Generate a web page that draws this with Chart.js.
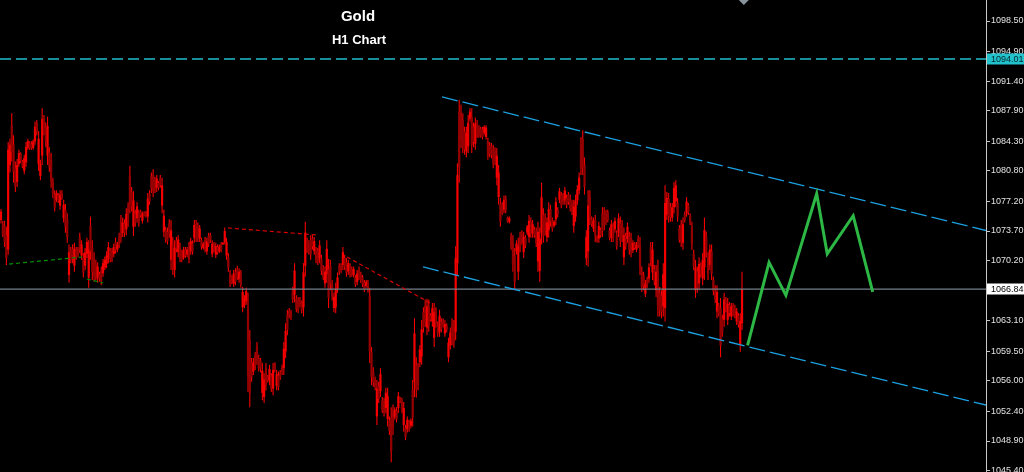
<!DOCTYPE html>
<html><head><meta charset="utf-8">
<script src="https://cdn.jsdelivr.net/npm/chart.js@4.4.0/dist/chart.umd.min.js"></script>
<style>html,body{margin:0;padding:0;background:#000;overflow:hidden}#wrap{width:1024px;height:472px;position:relative;background:#000}canvas{display:block}</style>
</head><body><div id="wrap"><canvas id="c" width="1024" height="472"></canvas></div>
<script>
const TITLE = 'Gold';
const SUBTITLE = 'H1 Chart';

const HIGHS = [
1076.3,1074.9,1074.9,1074.2,1084.2,1084.6,1087.6,1085.0,1081.9,1082.2,
1083.3,1083.0,1082.1,1082.7,1084.2,1084.6,1084.3,1084.3,1084.5,1086.6,
1086.8,1085.5,1082.1,1088.2,1087.4,1086.5,1087.2,1083.6,1082.9,1080.0,
1078.5,1078.5,1078.2,1078.5,1078.5,1077.4,1076.9,1075.8,1072.1,1071.8,
1072.1,1072.3,1071.8,1071.8,1073.5,1072.6,1071.1,1071.7,1072.9,1072.6,
1075.4,1072.6,1071.2,1070.3,1070.0,1068.9,1069.5,1070.4,1070.7,1071.3,
1072.4,1071.7,1071.7,1072.2,1072.9,1072.4,1073.5,1075.6,1075.3,1075.1,
1076.4,1077.1,1081.4,1078.9,1078.4,1076.2,1077.1,1076.2,1076.2,1076.0,
1076.0,
1076.1,1078.2,1078.5,1080.6,1081.0,1080.1,1080.3,1079.6,1080.3,1080.0,
1076.2,1074.2,1074.1,1075.1,1075.0,1073.0,1072.6,1073.0,1073.2,1072.3,
1071.5,1071.8,1071.8,1071.8,1072.4,1072.9,1072.6,1075.0,1075.0,1074.7,
1074.4,1072.9,1072.4,1073.0,1072.9,1073.5,1073.5,1072.6,1072.4,1072.3,
1072.1,1072.1,1072.4,1072.4,1074.1,1072.9,1071.1,1069.1,1068.5,1069.1,
1069.3,1069.6,1069.3,1069.1,1067.1,1066.1,1067.0,1066.4,1062.0,1058.7,
1058.7,1059.4,1060.6,1059.1,1058.7,1058.1,1056.9,1058.1,1056.7,1057.9,
1056.9,1058.1,1058.2,1057.3,1057.1,1057.3,1057.9,1060.6,1062.8,1064.4,
1064.6,1064.4,1067.1,1069.9,
1066.1,1065.9,1065.9,1065.5,1069.9,1074.8,1072.9,1072.6,1073.2,1073.2,
1073.0,1071.8,1071.7,1072.6,1070.9,1069.7,1069.5,1072.6,1070.4,1070.3,
1067.9,1066.4,1067.6,1068.8,1069.9,1069.9,1071.8,1070.9,1070.5,1070.3,
1069.9,1069.5,1069.5,1068.5,1069.1,1069.5,1068.9,1068.5,1067.9,1067.9,
1067.9,1067.0,1060.0,1057.6,1056.5,1056.1,1055.9,1057.5,1054.1,1054.0,
1055.2,1055.2,1051.8,1052.9,1053.2,1052.9,1052.9,1054.7,1054.1,1054.0,
1053.5,1050.8,1051.8,1051.4,1051.6,1056.1,1063.4,1058.8,1058.1,1060.2,
1063.2,1064.7,1065.6,1065.7,1065.6,1064.0,1065.2,1065.2,1064.7,1063.0,
1064.4,1063.4,1063.4,1063.2,1062.8,1061.1,1062.3,
1063.4,1063.2,1071.9,1081.7,1089.2,1088.6,1087.6,1086.0,1086.0,1087.4,
1088.2,1088.2,1086.5,1087.1,1086.8,1086.2,1086.0,1086.0,1086.2,1086.2,
1084.7,1084.2,1084.1,1083.9,1083.6,1083.5,1081.5,1077.6,1077.1,1077.9,
1077.9,1075.4,1075.4,1073.5,1073.2,1071.7,1072.6,1072.9,1073.6,1073.8,
1073.6,1073.2,1074.4,1075.6,1075.3,1075.0,1074.2,1074.1,1074.8,1074.1,
1079.4,1076.4,1075.8,1075.3,1077.1,1076.8,1075.3,1075.0,1077.7,1076.5,
1078.8,1078.3,1078.2,1078.9,1078.0,1078.3,1078.0,1077.4,1077.4,1078.0,
1079.1,1080.6,1084.8,1085.6,1082.4,1073.8,1078.5,1078.5,1075.4,1075.3,
1075.6,1073.2,1074.8,1074.1,
1076.5,1076.5,1076.2,1076.2,1074.1,1075.0,1074.7,1075.3,1073.8,1075.8,
1075.4,1075.0,1074.1,1073.5,1074.7,1073.6,1073.5,1072.6,1072.4,1072.4,
1073.2,1073.0,1069.5,1068.9,1067.9,1068.3,1069.9,1072.4,1072.4,1069.7,
1069.7,1070.3,1067.1,1066.7,1069.9,1079.1,1078.3,1078.2,1077.0,1077.0,
1079.5,1079.7,1077.6,1074.4,1075.0,1075.3,1076.0,1077.7,1077.0,1075.8,
1074.8,1071.5,1070.3,1069.5,1070.6,1070.0,1071.1,1075.3,1073.6,1071.2,
1072.1,1072.1,1068.3,1067.3,1067.3,1065.2,1065.8,1063.8,1066.4,1065.9,
1065.8,1065.3,1065.2,1065.2,1065.0,1064.6,1064.0,1064.0,1068.9
];

const LOWS = [
1074.6,1073.0,1071.8,1069.7,1070.9,1080.6,1081.9,1079.4,1078.3,1078.9,
1081.3,1081.7,1081.1,1080.4,1081.3,1083.3,1083.3,1083.3,1083.3,1083.9,
1085.0,1080.8,1079.7,1081.5,1085.0,1083.6,1081.5,1080.7,1078.8,1077.6,
1076.0,1077.1,1077.0,1076.2,1077.4,1074.7,1073.5,1072.3,1067.6,1069.9,
1069.9,1068.9,1070.3,1070.6,1071.1,1070.3,1068.2,1069.1,1070.5,1067.0,
1070.3,1067.9,1067.7,1067.9,1067.6,1067.7,1067.3,1068.3,1069.1,1069.3,
1069.9,1070.0,1070.0,1070.6,1071.0,1071.2,1071.7,1072.3,1073.0,1073.0,
1073.2,1074.2,1075.8,1076.0,1073.1,1074.2,1074.7,1074.2,1075.3,1074.6,
1075.4,
1075.3,1074.7,1076.8,1078.2,1077.7,1078.2,1078.3,1078.5,1078.8,1075.8,
1073.0,1072.3,1072.1,1072.9,1069.1,1068.5,1068.2,1071.2,1070.6,1070.0,
1070.0,1070.3,1070.5,1070.6,1069.9,1070.9,1070.9,1072.3,1072.4,1072.4,
1072.4,1071.5,1071.5,1071.2,1070.9,1071.8,1072.3,1070.6,1071.2,1070.5,
1070.9,1071.1,1071.2,1072.1,1072.1,1070.3,1068.9,1067.1,1067.4,1067.1,
1067.3,1067.9,1067.6,1067.0,1064.1,1064.6,1065.0,1054.7,1052.9,1055.9,
1056.7,1057.3,1057.9,1057.1,1057.0,1053.7,1053.4,1054.9,1055.8,1055.5,
1054.7,1054.3,1057.0,1054.9,1054.9,1056.1,1056.7,1056.7,1058.7,1061.4,
1063.4,1063.2,1065.2,1065.3,
1064.1,1064.0,1064.7,1064.0,1063.6,1068.3,1071.1,1070.9,1070.3,1071.5,
1070.9,1069.9,1069.7,1069.9,1068.5,1067.9,1067.0,1067.6,1064.6,1066.7,
1065.5,1064.1,1064.0,1066.4,1068.5,1068.7,1069.1,1069.1,1068.3,1068.5,
1068.2,1068.3,1068.2,1067.1,1067.3,1067.9,1067.6,1067.1,1066.5,1067.0,
1066.4,1058.1,1055.5,1055.3,1054.9,1050.8,1053.4,1054.1,1052.2,1051.8,
1052.2,1050.6,1049.6,1046.4,1049.6,1051.4,1051.1,1052.2,1053.4,1052.2,
1050.0,1049.0,1049.9,1050.0,1050.4,1050.6,1054.1,1054.0,1054.9,1057.6,
1057.9,1061.7,1062.4,1061.4,1061.8,1063.0,1062.4,1060.0,1062.3,1061.2,
1061.2,1061.7,1062.3,1061.2,1061.7,1058.2,1059.7,
1060.2,1059.9,1060.8,1068.5,1079.4,1083.5,1082.9,1082.7,1082.4,1082.9,
1086.6,1082.9,1083.6,1083.3,1084.7,1084.7,1084.7,1084.5,1085.0,1084.5,
1082.1,1082.4,1082.3,1081.1,1081.5,1079.1,1076.8,1074.2,1075.6,1075.8,
1075.8,1074.7,1074.6,1071.5,1068.9,1066.7,1070.9,1067.9,1071.2,1072.1,
1070.5,1071.7,1073.2,1072.3,1072.9,1072.9,1072.9,1071.8,1068.9,1067.7,
1072.1,1072.3,1073.2,1072.4,1072.9,1074.2,1073.6,1074.1,1074.4,1075.3,
1077.0,1076.4,1076.8,1076.8,1076.4,1076.8,1076.0,1075.6,1073.5,1074.8,
1076.8,1078.0,1080.3,1080.3,1078.0,1069.7,1069.5,1074.4,1074.2,1073.6,
1072.4,1072.3,1072.3,1072.9,
1073.0,1073.8,1074.4,1074.7,1072.6,1072.4,1072.4,1073.5,1071.5,1073.0,
1071.8,1072.4,1069.7,1071.5,1072.3,1070.9,1070.6,1071.1,1071.5,1071.2,
1071.7,1068.5,1066.5,1066.7,1065.9,1067.0,1067.6,1069.5,1067.9,1067.3,
1065.9,1063.6,1063.6,1063.4,1063.6,1063.0,1075.0,1074.7,1074.8,1074.8,
1075.8,1076.5,1074.8,1072.3,1071.8,1071.5,1074.7,1075.4,1075.6,1074.4,
1071.5,1069.1,1065.8,1066.4,1066.7,1068.2,1067.3,1067.9,1070.6,1067.9,
1069.1,1067.9,1066.1,1065.2,1063.4,1063.6,1058.8,1061.2,1062.4,1064.1,
1062.6,1063.6,1063.2,1063.6,1063.4,1062.6,1062.3,1059.4,1062.0
];

const OPENS = [
1075.0,1074.5,1074.3,1073.2,1071.5,1081.5,1086.2,1083.9,1081.1,1079.5,
1081.6,1082.8,1081.9,1080.8,1081.8,1083.5,1084.1,1084.0,1083.5,1084.3,
1086.5,1081.6,1080.2,1082.6,1087.0,1086.0,1082.6,1083.0,1082.1,1079.5,
1078.0,1077.4,1077.9,1076.7,1078.2,1075.2,1076.2,1075.1,1068.5,1071.4,
1071.6,1069.6,1071.5,1071.6,1073.0,1070.8,1070.5,1069.6,1071.0,1068.2,
1074.3,1071.7,1070.5,1069.8,1068.1,1068.6,1069.0,1068.7,1069.4,1069.8,
1070.5,1071.3,1071.4,1071.0,1072.4,1071.5,1073.0,1074.8,1073.5,1074.6,
1073.9,1076.5,1080.2,1078.3,1074.2,1075.7,1075.2,1075.8,1076.0,1074.9,
1075.9,
1075.9,1075.4,1078.1,1080.1,1080.3,1079.7,1078.8,1079.4,1080.0,1076.7,
1073.6,1073.8,1073.6,1074.6,1070.3,1072.1,1069.1,1072.6,1071.2,1071.8,
1071.2,1070.6,1071.5,1070.9,1071.9,1071.3,1072.2,1072.9,1074.5,1074.2,
1072.8,1072.6,1071.7,1072.6,1071.3,1073.1,1073.2,1071.0,1072.1,1070.9,
1071.8,1071.3,1072.1,1072.1,1072.4,1070.8,1070.6,1068.7,1068.3,1067.5,
1068.9,1069.2,1068.0,1068.6,1064.7,1064.9,1065.4,1064.5,1060.8,1058.2,
1057.1,1059.0,1060.1,1058.7,1058.4,1054.6,1054.1,1057.5,1056.5,1056.0,
1056.5,1055.1,1058.0,1055.4,1056.6,1057.0,1057.6,1057.5,1059.5,1063.8,
1064.3,1064.1,1066.7,1066.2,
1065.7,1065.5,1065.6,1065.2,1064.7,1069.6,1072.5,1072.2,1072.6,1072.8,
1071.3,1071.4,1071.3,1070.5,1070.4,1069.3,1067.5,1068.6,1069.2,1069.6,
1067.4,1064.6,1064.7,1066.9,1069.6,1069.6,1069.7,1070.5,1070.0,1068.9,
1069.5,1069.2,1068.5,1068.2,1067.7,1069.1,1068.6,1068.2,1067.6,1067.2,
1067.6,1066.0,1059.4,1057.1,1056.1,1051.8,1055.4,1054.8,1053.7,1053.5,
1052.8,1051.5,1051.3,1051.6,1052.4,1051.7,1052.5,1052.8,1053.9,1053.6,
1050.8,1050.4,1050.3,1051.1,1050.7,1055.0,1055.9,1057.8,1057.5,1058.2,
1058.9,1064.1,1064.9,1062.3,1064.8,1063.8,1063.0,1061.1,1064.2,1062.6,
1061.8,1063.0,1063.1,1061.6,1062.5,1058.8,1060.2,
1062.7,1062.5,1061.8,1069.9,1087.8,1087.8,1086.8,1085.4,1083.1,1083.7,
1086.9,1087.2,1086.0,1084.0,1086.4,1085.9,1085.7,1085.7,1085.3,1084.8,
1084.2,1083.8,1083.7,1083.3,1083.2,1080.0,1077.7,1076.9,1076.8,1076.2,
1077.5,1075.3,1074.8,1073.1,1072.3,1070.7,1071.3,1068.9,1073.1,1073.4,
1071.2,1072.9,1073.5,1073.0,1074.8,1073.4,1073.9,1073.6,1070.1,1069.0,
1073.5,1075.6,1075.3,1073.0,1073.8,1076.3,1074.9,1074.3,1075.1,1076.2,
1077.4,1077.9,1077.9,1077.3,1077.6,1078.0,1077.5,1077.0,1074.3,1075.4,
1077.3,1078.5,1083.9,1084.6,1081.5,1070.5,1071.3,1077.7,1075.1,1074.0,
1075.0,1073.0,1072.8,1073.8,
1075.8,1076.0,1075.8,1075.9,1073.8,1072.9,1074.2,1073.9,1073.3,1073.5,
1074.6,1074.5,1070.6,1073.1,1072.8,1073.1,1072.9,1071.4,1072.2,1071.5,
1072.9,1072.1,1068.9,1068.5,1066.3,1068.0,1068.1,1071.8,1068.8,1069.2,
1066.7,1069.0,1066.4,1066.1,1064.8,1064.6,1075.6,1077.5,1076.5,1075.3,
1076.5,1077.2,1077.0,1074.0,1074.4,1072.3,1075.7,1075.8,1076.7,1075.5,
1074.1,1071.0,1066.7,1068.9,1067.5,1069.6,1068.1,1069.4,1073.0,1070.6,
1069.7,1071.3,1067.9,1066.9,1064.2,1064.9,1064.6,1063.3,1063.2,1065.5,
1063.2,1065.0,1063.6,1064.9,1064.6,1063.0,1063.7,1060.3,1062.8
];

const CLOSES = [
1076.0,1073.3,1072.4,1070.5,1083.3,1083.9,1083.0,1080.7,1079.0,1081.5,
1082.9,1082.0,1081.3,1082.3,1083.6,1084.3,1083.5,1083.5,1084.3,1086.0,
1085.4,1084.6,1081.6,1086.9,1085.5,1084.2,1086.1,1081.3,1079.6,1078.1,
1076.5,1078.2,1077.3,1078.0,1077.6,1076.8,1074.2,1073.0,1071.2,1070.3,
1070.4,1071.6,1070.6,1070.9,1071.6,1072.1,1068.8,1071.2,1072.4,1071.5,
1071.3,1068.9,1068.4,1068.4,1069.5,1068.0,1067.8,1069.9,1070.3,1070.8,
1071.8,1070.4,1070.5,1071.8,1071.4,1072.1,1072.1,1073.0,1074.7,1073.5,
1075.7,1074.8,1077.0,1076.6,1077.3,1074.7,1076.6,1074.6,1075.5,1075.7,
1075.5,
1075.5,1077.5,1077.2,1078.7,1078.4,1078.6,1079.9,1078.8,1079.1,1079.1,
1075.5,1072.7,1072.5,1073.4,1073.8,1069.4,1071.7,1071.6,1072.7,1070.5,
1070.4,1071.5,1070.8,1071.5,1070.4,1072.5,1071.3,1074.4,1072.9,1072.9,
1074.0,1071.8,1072.2,1071.6,1072.5,1072.2,1072.6,1072.2,1071.5,1071.9,
1071.2,1071.9,1071.5,1072.3,1073.7,1072.4,1069.4,1067.5,1067.7,1068.7,
1067.7,1068.3,1068.9,1067.4,1066.5,1065.8,1066.6,1056.5,1054.5,1056.4,
1058.2,1057.8,1058.4,1057.5,1057.4,1057.2,1056.2,1055.5,1056.0,1057.4,
1055.1,1057.3,1057.3,1056.8,1055.3,1056.4,1057.0,1059.8,1061.9,1062.0,
1063.7,1063.5,1065.6,1069.0,
1064.5,1064.4,1065.0,1064.3,1068.8,1073.5,1071.5,1071.3,1070.9,1071.9,
1072.5,1070.3,1070.1,1072.0,1069.0,1068.3,1068.9,1071.6,1065.8,1067.5,
1066.0,1065.9,1066.9,1068.2,1068.8,1069.0,1071.2,1069.5,1068.8,1069.9,
1068.6,1068.6,1069.2,1067.4,1068.7,1068.3,1067.9,1067.4,1066.8,1067.7,
1066.7,1059.5,1056.4,1055.8,1055.3,1055.1,1053.9,1056.8,1052.6,1052.2,
1054.6,1054.2,1050.1,1047.7,1050.4,1052.6,1051.5,1054.2,1053.6,1052.6,
1052.8,1049.4,1051.4,1050.3,1051.3,1051.7,1061.6,1055.0,1055.5,1059.7,
1062.1,1062.3,1063.0,1064.8,1062.5,1063.2,1064.6,1064.1,1062.8,1061.6,
1063.7,1062.1,1062.6,1062.7,1062.0,1060.5,1061.7,
1060.9,1060.6,1070.5,1080.3,1081.2,1084.3,1083.7,1083.3,1085.3,1086.5,
1087.8,1083.9,1084.2,1086.4,1085.1,1085.0,1085.0,1084.8,1086.0,1085.9,
1082.6,1082.8,1082.7,1081.7,1081.9,1082.6,1080.6,1074.8,1075.9,1077.4,
1076.2,1074.8,1075.2,1071.9,1069.8,1067.7,1072.2,1071.9,1071.7,1072.5,
1073.0,1072.0,1074.2,1074.9,1073.4,1074.5,1073.2,1072.3,1073.6,1072.8,
1077.7,1073.1,1073.7,1074.7,1076.3,1074.8,1074.0,1074.8,1077.1,1075.6,
1078.4,1076.8,1077.1,1078.5,1076.8,1077.1,1076.4,1076.0,1076.6,1077.3,
1078.6,1080.0,1081.2,1081.3,1078.9,1073.0,1076.7,1075.2,1074.5,1074.9,
1073.1,1072.5,1074.3,1073.2,
1073.7,1074.4,1074.8,1075.0,1072.9,1074.5,1072.9,1074.9,1071.9,1075.2,
1072.6,1072.9,1073.2,1071.9,1074.2,1071.5,1071.2,1072.3,1071.7,1072.1,
1072.0,1069.4,1067.1,1067.2,1067.5,1067.3,1069.4,1070.1,1071.5,1067.8,
1068.9,1064.9,1064.3,1064.1,1068.6,1077.0,1077.6,1075.4,1075.3,1076.5,
1078.8,1079.1,1075.4,1072.7,1072.4,1074.5,1075.0,1077.2,1075.9,1074.7,
1072.1,1069.6,1069.4,1067.0,1069.8,1068.6,1070.3,1073.8,1071.2,1068.6,
1071.5,1068.7,1066.6,1065.6,1066.5,1063.9,1060.2,1061.7,1065.6,1064.5,
1065.1,1064.0,1064.8,1063.9,1063.8,1064.2,1062.6,1063.1,1066.84
];

const Y_TICKS = [1098.50,1094.90,1091.40,1087.90,1084.30,1080.80,1077.20,1073.70,1070.20,1063.10,1059.50,1056.00,1052.40,1048.90,1045.40];
const CURRENT_PRICE = 1066.84;
const LEVEL_PRICE = 1094.01;
const Y_RANGE = [1045.24, 1100.98];
const X_RANGE = [-0.56, 550.3];

const PROJ_X = [417.1, 429.1, 438.5, 455.7, 461.6, 476.1, 487.0];
const PROJ_Y = [1060.2, 1070.0, 1066.1, 1078.1, 1071.0, 1075.5, 1066.5];
const CH_UPPER_X = [246.4, 550.3], CH_UPPER_Y = [1089.53, 1073.76];
const CH_LOWER_X = [235.8, 550.3], CH_LOWER_Y = [1069.45, 1053.15];
const RED1_X = [126.8, 176.5], RED1_Y = [1074.06, 1073.23];
const RED2_X = [193.3, 240.8], RED2_Y = [1070.63, 1065.08];
const GRN1_X = [4.5, 45.3], GRN1_Y = [1069.80, 1070.63];
const GRN2_X = [48.0, 57.0], GRN2_Y = [1068.03, 1067.56];

const RED = '#f50000', DARK = '#960000';
const pts = (xs, ys) => xs.map((x, i) => ({x, y: ys[i]}));
const lineDs = (data, color, width, dash, order) => ({
  type: 'line', data, borderColor: color, borderWidth: width, borderDash: dash || [],
  pointRadius: 0, tension: 0, fill: false, order
});

const datasets = [
  lineDs(pts(PROJ_X, PROJ_Y), '#2db845', 3, null, 0),
  lineDs(pts(CH_UPPER_X, CH_UPPER_Y), '#1ca0e0', 1.3, [16, 5], 1),
  lineDs(pts(CH_LOWER_X, CH_LOWER_Y), '#1ca0e0', 1.3, [16, 5], 1),
  lineDs(pts(RED1_X, RED1_Y), '#d80000', 1.2, [4, 3], 1),
  lineDs(pts(RED2_X, RED2_Y), '#d80000', 1.2, [4, 3], 1),
  lineDs(pts(GRN1_X, GRN1_Y), '#009000', 1.2, [4, 3], 1),
  lineDs(pts(GRN2_X, GRN2_Y), '#009000', 1.2, [4, 3], 1),
  lineDs(pts(X_RANGE, [LEVEL_PRICE, LEVEL_PRICE]), '#22bccc', 1.3, [11, 5], 2),
  lineDs(pts(X_RANGE, [CURRENT_PRICE, CURRENT_PRICE]), '#75808a', 1.4, null, 2),
  {
    type: 'bar', order: 5, grouped: false, barThickness: 2.2, inflateAmount: 0,
    data: OPENS.map((o, i) => ({x: i, y: [o, CLOSES[i]]})),
    backgroundColor: c => (CLOSES[c.dataIndex] < OPENS[c.dataIndex] ? DARK : RED)
  },
  {
    type: 'bar', order: 6, grouped: false, barThickness: 1.1, inflateAmount: 0,
    data: HIGHS.map((h, i) => ({x: i, y: [LOWS[i], h]})),
    backgroundColor: RED
  }
];

const overlay = {
  id: 'overlay',
  afterDraw(chart) {
    const {ctx, chartArea, scales: {x, y}} = chart;
    ctx.save();
    ctx.fillStyle = '#ffffff';
    ctx.textAlign = 'center';
    ctx.textBaseline = 'alphabetic';
    ctx.font = 'bold 15px "Liberation Sans", Arial, sans-serif';
    ctx.fillText(TITLE, 358, 21);
    ctx.font = 'bold 13px "Liberation Sans", Arial, sans-serif';
    ctx.fillText(SUBTITLE, 359, 44);

    const box = (v, bg, fg) => {
      const py = Math.round(y.getPixelForValue(v));
      ctx.fillStyle = bg;
      ctx.fillRect(chartArea.right + 1, py - 5.5, 1024 - chartArea.right - 1, 11);
      ctx.fillStyle = fg;
      ctx.textAlign = 'left';
      ctx.textBaseline = 'middle';
      ctx.font = '9px "Liberation Sans", Arial, sans-serif';
      ctx.fillText(v.toFixed(2), chartArea.right + 5, py + 0.5);
    };
    box(LEVEL_PRICE, '#22c2cc', '#00262a');
    box(CURRENT_PRICE, '#ffffff', '#000000');

    const mx = x.getPixelForValue(HIGHS.length);
    ctx.fillStyle = '#8a949e';
    ctx.beginPath();
    ctx.moveTo(mx - 5, 0); ctx.lineTo(mx + 5, 0); ctx.lineTo(mx, 5); ctx.closePath();
    ctx.fill();
    ctx.restore();
  }
};

new Chart(document.getElementById('c'), {
  type: 'bar',
  data: {datasets},
  options: {
    responsive: false, animation: false, devicePixelRatio: 1, events: [],
    layout: {padding: 0},
    plugins: {legend: {display: false}, tooltip: {enabled: false}, title: {display: false}},
    scales: {
      x: {type: 'linear', min: X_RANGE[0], max: X_RANGE[1], display: false, offset: false},
      y: {
        position: 'right', min: Y_RANGE[0], max: Y_RANGE[1],
        afterBuildTicks: s => { s.ticks = Y_TICKS.map(v => ({value: v})); },
        afterFit: s => { s.width = 38; s.paddingTop = 0; s.paddingBottom = 0; },
        ticks: {color: '#e2e2e2', font: {family: '"Liberation Sans", Arial, sans-serif', size: 9}, padding: 1, autoSkip: false, callback: v => Number(v).toFixed(2)},
        grid: {drawOnChartArea: false, drawTicks: true, tickLength: 4, color: '#c8c8c8', tickColor: '#c8c8c8'},
        border: {display: true, color: '#c8c8c8', width: 1}
      }
    }
  },
  plugins: [overlay]
});
</script>
</body></html>
